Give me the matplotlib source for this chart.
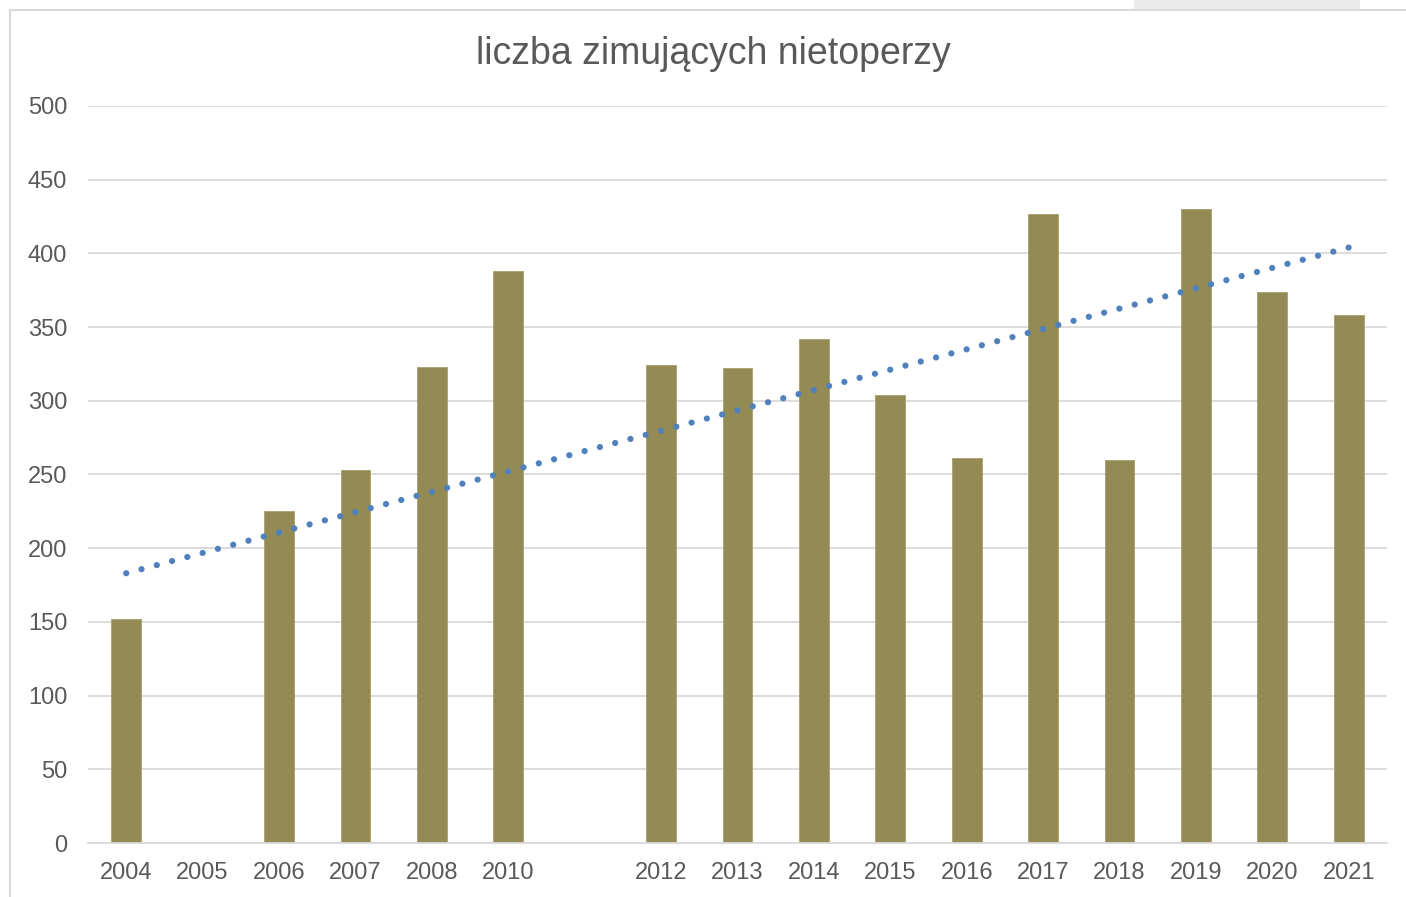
import numpy as np
import matplotlib
matplotlib.use("Agg")
import matplotlib.pyplot as plt
from matplotlib.patches import Rectangle

plt.rcParams['font.family'] = ['Liberation Sans', 'DejaVu Sans']

categories = ['2004', '2005', '2006', '2007', '2008', '2010', '', '2012', '2013',
              '2014', '2015', '2016', '2017', '2018', '2019', '2020', '2021']
values = [152, np.nan, 225, 253, 323, 388, np.nan, 324, 322,
          342, 304, 261, 427, 260, 430, 374, 358]
trend_start = 183
trend_end = 404
title = 'liczba zimujących nietoperzy'
yticks = [0, 50, 100, 150, 200, 250, 300, 350, 400, 450, 500]

W, H = 1406, 897
fig = plt.figure(figsize=(W / 100, H / 100), dpi=100)
fig.patch.set_facecolor('white')

# outer chart border and top-right artifact
fig.add_artist(Rectangle((10 / W, -0.05), 1.1, 1 - 10 / H + 0.05, transform=fig.transFigure,
                         fill=False, edgecolor='#D9D9D9', lw=1.5))
fig.add_artist(Rectangle((1134 / W, 1 - 9 / H), (1360 - 1134) / W, 9 / H + 0.01,
                         transform=fig.transFigure, facecolor='#EBEBEB', edgecolor='none'))

ax = fig.add_axes([88 / W, 1 - 843 / H, (1387 - 88) / W, (843 - 106) / H])
x = np.arange(len(categories))
ax.bar(x, values, width=0.39, color='#948A54', edgecolor='#A89E6C', linewidth=0.6, zorder=2)

ax.plot([x[0], x[-1]], [trend_start, trend_end], color='#4F81BD', lw=4.5,
        linestyle=(0, (0.01, 2.52)), dash_capstyle='round', zorder=3)

ax.set_xlim(-0.5, len(categories) - 0.5)
ax.set_ylim(0, 500)
ax.set_yticks(yticks)
ax.set_xticks(x)
ax.set_xticklabels(categories)
ax.grid(axis='y', color='#D9D9D9', lw=1.3, zorder=0)
ax.set_axisbelow(True)
for s in ['top', 'right', 'left']:
    ax.spines[s].set_visible(False)
ax.spines['bottom'].set_color('#D9D9D9')
ax.spines['bottom'].set_linewidth(1.3)
ax.tick_params(axis='both', length=0, labelsize=17, colors='#595959')
ax.tick_params(axis='y', pad=15)
ax.tick_params(axis='x', pad=13.5)

fig.text(713 / W, 1 - 54 / H, title, ha='center', va='center', fontsize=27, color='#595959')

fig.savefig('out.png', dpi=100, facecolor='white')
